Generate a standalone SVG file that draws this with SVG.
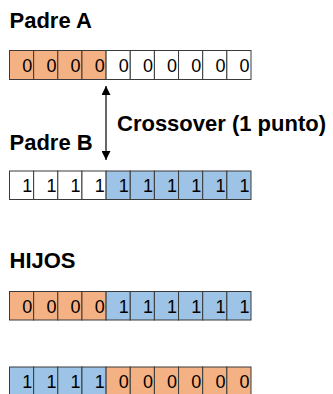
<svg xmlns="http://www.w3.org/2000/svg" width="333" height="394" viewBox="0 0 333 394">
  <style>
    .lbl { font-family: "Liberation Sans", Arial, sans-serif; font-weight: bold; font-size: 22px; fill: #000; }
    .cell { stroke: #3a3a3a; stroke-width: 1; }
    .o { fill: #F4B183; }
    .b { fill: #9DC3E6; }
    .w { fill: #FFFFFF; }
    .d { font-family: "Liberation Sans", Arial, sans-serif; font-size: 18px; fill: #000; text-anchor: end; }
    .conn { stroke: #000; stroke-width: 1.2; fill: none; }
  </style>
  <defs>
    <marker id="ah" viewBox="0 0 10 10" refX="10" refY="5" markerWidth="9" markerHeight="9" markerUnits="userSpaceOnUse" orient="auto-start-reverse">
      <path d="M0,0 L10,5 L0,10 Z" fill="#000"/>
    </marker>
  </defs>
  <rect width="333" height="394" fill="#fff"/>

  <g id="label-padre-a"><text class="lbl" x="9.5" y="28">Padre A</text></g>
  <g id="label-padre-b"><text class="lbl" x="9.5" y="149.5">Padre B</text></g>
  <g id="label-crossover"><text class="lbl" x="117" y="130.5">Crossover (1 punto)</text></g>
  <g id="label-hijos"><text class="lbl" x="9.5" y="268">HIJOS</text></g>

  <g id="padre-a">
    <rect class="cell o" x="9.5" y="50.5" width="24.15" height="29"/>
    <rect class="cell o" x="33.65" y="50.5" width="24.15" height="29"/>
    <rect class="cell o" x="57.8" y="50.5" width="24.15" height="29"/>
    <rect class="cell o" x="81.95" y="50.5" width="24.15" height="29"/>
    <rect class="cell w" x="106.1" y="50.5" width="24.15" height="29"/>
    <rect class="cell w" x="130.25" y="50.5" width="24.15" height="29"/>
    <rect class="cell w" x="154.4" y="50.5" width="24.15" height="29"/>
    <rect class="cell w" x="178.55" y="50.5" width="24.15" height="29"/>
    <rect class="cell w" x="202.7" y="50.5" width="24.15" height="29"/>
    <rect class="cell w" x="226.85" y="50.5" width="24.15" height="29"/>
    <text class="d" x="32.2" y="72">0</text>
    <text class="d" x="56.4" y="72">0</text>
    <text class="d" x="80.5" y="72">0</text>
    <text class="d" x="104.7" y="72">0</text>
    <text class="d" x="128.8" y="72">0</text>
    <text class="d" x="153" y="72">0</text>
    <text class="d" x="177.1" y="72">0</text>
    <text class="d" x="201.3" y="72">0</text>
    <text class="d" x="225.4" y="72">0</text>
    <text class="d" x="249.6" y="72">0</text>
  </g>

  <g id="padre-b">
    <rect class="cell w" x="9.5" y="171" width="24.15" height="28.5"/>
    <rect class="cell w" x="33.65" y="171" width="24.15" height="28.5"/>
    <rect class="cell w" x="57.8" y="171" width="24.15" height="28.5"/>
    <rect class="cell w" x="81.95" y="171" width="24.15" height="28.5"/>
    <rect class="cell b" x="106.1" y="171" width="24.15" height="28.5"/>
    <rect class="cell b" x="130.25" y="171" width="24.15" height="28.5"/>
    <rect class="cell b" x="154.4" y="171" width="24.15" height="28.5"/>
    <rect class="cell b" x="178.55" y="171" width="24.15" height="28.5"/>
    <rect class="cell b" x="202.7" y="171" width="24.15" height="28.5"/>
    <rect class="cell b" x="226.85" y="171" width="24.15" height="28.5"/>
    <text class="d" x="32.2" y="192">1</text>
    <text class="d" x="56.4" y="192">1</text>
    <text class="d" x="80.5" y="192">1</text>
    <text class="d" x="104.7" y="192">1</text>
    <text class="d" x="128.8" y="192">1</text>
    <text class="d" x="153" y="192">1</text>
    <text class="d" x="177.1" y="192">1</text>
    <text class="d" x="201.3" y="192">1</text>
    <text class="d" x="225.4" y="192">1</text>
    <text class="d" x="249.6" y="192">1</text>
  </g>

  <g id="hijo-1">
    <rect class="cell o" x="9.5" y="291.5" width="24.15" height="28.5"/>
    <rect class="cell o" x="33.65" y="291.5" width="24.15" height="28.5"/>
    <rect class="cell o" x="57.8" y="291.5" width="24.15" height="28.5"/>
    <rect class="cell o" x="81.95" y="291.5" width="24.15" height="28.5"/>
    <rect class="cell b" x="106.1" y="291.5" width="24.15" height="28.5"/>
    <rect class="cell b" x="130.25" y="291.5" width="24.15" height="28.5"/>
    <rect class="cell b" x="154.4" y="291.5" width="24.15" height="28.5"/>
    <rect class="cell b" x="178.55" y="291.5" width="24.15" height="28.5"/>
    <rect class="cell b" x="202.7" y="291.5" width="24.15" height="28.5"/>
    <rect class="cell b" x="226.85" y="291.5" width="24.15" height="28.5"/>
    <text class="d" x="32.2" y="312.5">0</text>
    <text class="d" x="56.4" y="312.5">0</text>
    <text class="d" x="80.5" y="312.5">0</text>
    <text class="d" x="104.7" y="312.5">0</text>
    <text class="d" x="128.8" y="312.5">1</text>
    <text class="d" x="153" y="312.5">1</text>
    <text class="d" x="177.1" y="312.5">1</text>
    <text class="d" x="201.3" y="312.5">1</text>
    <text class="d" x="225.4" y="312.5">1</text>
    <text class="d" x="249.6" y="312.5">1</text>
  </g>

  <g id="hijo-2">
    <rect class="cell b" x="9.5" y="367" width="24.15" height="28.5"/>
    <rect class="cell b" x="33.65" y="367" width="24.15" height="28.5"/>
    <rect class="cell b" x="57.8" y="367" width="24.15" height="28.5"/>
    <rect class="cell b" x="81.95" y="367" width="24.15" height="28.5"/>
    <rect class="cell o" x="106.1" y="367" width="24.15" height="28.5"/>
    <rect class="cell o" x="130.25" y="367" width="24.15" height="28.5"/>
    <rect class="cell o" x="154.4" y="367" width="24.15" height="28.5"/>
    <rect class="cell o" x="178.55" y="367" width="24.15" height="28.5"/>
    <rect class="cell o" x="202.7" y="367" width="24.15" height="28.5"/>
    <rect class="cell o" x="226.85" y="367" width="24.15" height="28.5"/>
    <text class="d" x="32.2" y="388">1</text>
    <text class="d" x="56.4" y="388">1</text>
    <text class="d" x="80.5" y="388">1</text>
    <text class="d" x="104.7" y="388">1</text>
    <text class="d" x="128.8" y="388">0</text>
    <text class="d" x="153" y="388">0</text>
    <text class="d" x="177.1" y="388">0</text>
    <text class="d" x="201.3" y="388">0</text>
    <text class="d" x="225.4" y="388">0</text>
    <text class="d" x="249.6" y="388">0</text>
  </g>

  <g id="connectors">
    <line class="conn" x1="106" y1="86" x2="106" y2="160" marker-start="url(#ah)" marker-end="url(#ah)"/>
  </g>
</svg>
